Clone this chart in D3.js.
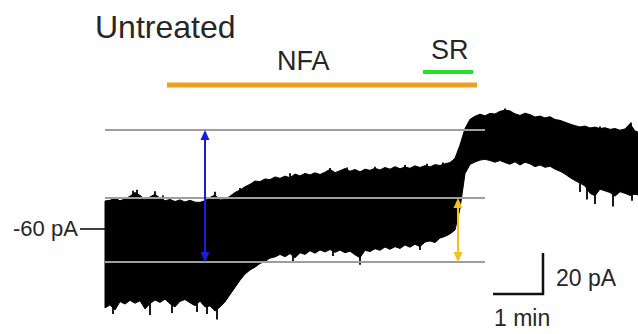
<!DOCTYPE html>
<html>
<head>
<meta charset="utf-8">
<script src="https://cdn.jsdelivr.net/npm/d3@7"></script>
<style>
  html, body { margin: 0; padding: 0; background: #fff; }
  svg { display: block; }
  text { font-family: "Liberation Sans", Arial, sans-serif; fill: #262626; }
</style>
</head>
<body>
<svg id="chart" width="638" height="334"></svg>
<script>
// ---- data (time in min, current in pA) ----
const times = [0,0.1,0.2,0.3,0.4,0.5,0.6,0.7,0.8,0.9,1.0,1.1,1.2,1.3,1.4,1.5,1.6,1.7,1.8,1.9,
  2.0,2.1,2.2,2.3,2.4,2.5,2.6,2.7,2.8,2.9,3.0,3.1,3.2,3.3,3.4,3.5,3.6,3.7,3.8,3.9,
  4.0,4.1,4.2,4.3,4.4,4.5,4.6,4.7,4.8,4.9,5.0,5.1,5.2,5.3,5.4,5.5,5.6,5.7,5.8,5.9,
  6.0,6.1,6.2,6.3,6.4,6.5,6.6,6.7,6.8,6.9,7.0,7.1,7.2,7.3,7.4,7.5,7.6,7.7,7.8,7.9,
  8.0,8.1,8.2,8.3,8.4,8.5,8.6,8.7,8.8,8.9,9.0,9.1,9.2,9.3,9.4,9.5,9.6,9.7,9.8,9.9,
  10.0,10.1,10.2,10.3,10.4,10.5,10.6,10.66];
// upper envelope of the noisy current trace (pA)
const upper = [-46.3,-46.0,-45.0,-46.2,-45.4,-44.0,-42.2,-43.6,-45.6,-44.4,-43.0,-45.0,-46.2,-45.6,-46.6,-45.8,-46.8,-46.0,-46.9,-47.0,
  -46.2,-44.6,-43.4,-45.8,-45.6,-44.0,-42.2,-41.0,-39.4,-38.2,-36.6,-36.9,-35.6,-35.9,-34.6,-35.3,-34.2,-35.0,-33.2,-34.1,
  -32.9,-33.6,-32.6,-33.4,-32.3,-30.9,-32.5,-31.6,-30.5,-31.8,-31.0,-32.1,-30.8,-31.4,-30.4,-31.2,-30.0,-30.8,-29.6,-30.6,
  -29.8,-30.4,-29.2,-30.0,-29.1,-29.7,-28.6,-29.0,-28.2,-27.6,-25.5,-19.0,-11.0,-6.5,-5.0,-4.0,-4.8,-3.6,-3.9,-2.6,
  -2.0,-2.4,-3.8,-4.6,-3.5,-4.2,-5.4,-4.9,-5.8,-5.2,-6.6,-7.0,-7.9,-8.8,-9.6,-10.2,-9.8,-10.7,-10.3,-11.0,
  -10.6,-11.4,-11.0,-11.8,-11.2,-8.6,-12.2,-12.7];
// lower envelope of the noisy current trace (pA)
const lower = [-98.5,-97.0,-99.5,-95.4,-96.6,-94.8,-96.2,-95.0,-99.0,-96.4,-94.6,-95.8,-94.2,-96.5,-98.0,-95.3,-94.4,-96.0,-97.4,-95.2,
  -98.0,-97.5,-100.0,-98.0,-95.5,-92.0,-88.5,-85.0,-82.0,-80.0,-78.6,-76.8,-75.8,-74.2,-73.6,-72.4,-73.5,-72.0,-74.0,-71.6,
  -72.4,-70.6,-71.8,-70.2,-71.2,-70.0,-71.4,-70.3,-71.6,-70.8,-72.6,-74.0,-70.4,-71.0,-69.6,-70.4,-68.8,-69.9,-68.6,-69.5,
  -67.8,-68.9,-67.4,-68.6,-66.4,-65.8,-66.6,-64.4,-63.6,-62.4,-60.5,-50.0,-33.0,-28.5,-27.3,-26.4,-26.0,-26.6,-27.4,-26.6,
  -27.6,-28.4,-27.2,-28.8,-27.4,-28.2,-29.6,-28.8,-29.9,-29.4,-30.8,-31.8,-33.2,-34.9,-36.4,-37.6,-39.0,-42.6,-43.8,-40.6,
  -41.4,-42.2,-44.0,-41.8,-42.6,-43.6,-43.0,-43.4];
// narrow noise spikes beyond the envelope: [time, tip pA]
const spikesUp = [[0.56,-41.4],[0.64,-40.8],[1.0,-41.6],[1.16,-43.6],[2.2,-41.8],[2.7,-40.0],[3.7,-32.8],
  [4.5,-30.2],[4.84,-30.0],[5.4,-29.6],[6.0,-28.8],[6.44,-28.2],[6.76,-27.6],[8.0,-1.2],[9.9,-10.0],[10.52,-8.0]];
const spikesDown = [[0.16,-101.5],[0.9,-102.0],[1.34,-101.0],[1.84,-100.5],[2.04,-101.5],[2.24,-104.2],
  [3.76,-76.0],[4.56,-73.2],[5.1,-77.4],[6.3,-70.2],[9.5,-42.0],[9.64,-45.6],[9.8,-47.8],[10.16,-49.0],[10.54,-46.2]];

// reference levels (pA) marked by grey lines
const refLevels = [-11.7, -44.9, -76.1];
const refLineEnd = 7.6;            // min
// amplitude arrows: [time, from pA, to pA]
const blueArrow = [2.0, -11.7, -76.1];
const yellowArrow = [7.06, -44.9, -76.1];
// drug application bars (min)
const nfaBar = [1.24, 7.44];
const srBar = [6.36, 7.36];
// scale bar values
const scaleCurrent = 20;  // pA
const scaleTime = 1;      // min
const holdingLabel = -60; // pA

// ---- scales ----
const x = d3.scaleLinear().domain([0, 1]).range([105, 155]);
const y = d3.scaleLinear().domain([-60, -40]).range([229, 188]);

const svg = d3.select("#chart");

// trace band
const pts = times.map((t, i) => ({t, hi: upper[i], lo: lower[i]}));
svg.append("path")
  .datum(pts)
  .attr("d", d3.area().x(d => x(d.t)).y0(d => y(d.lo)).y1(d => y(d.hi)))
  .attr("fill", "#000")
  .attr("stroke", "#000")
  .attr("stroke-width", 1)
  .attr("stroke-linejoin", "round");
svg.selectAll("line.su").data(spikesUp).enter().append("line")
  .attr("x1", d => x(d[0])).attr("x2", d => x(d[0]))
  .attr("y1", d => y(d[1])).attr("y2", d => y(d[1]) + 14)
  .attr("stroke", "#000").attr("stroke-width", 1.8);
svg.selectAll("line.sd").data(spikesDown).enter().append("line")
  .attr("x1", d => x(d[0])).attr("x2", d => x(d[0]))
  .attr("y1", d => y(d[1])).attr("y2", d => y(d[1]) - 14)
  .attr("stroke", "#000").attr("stroke-width", 1.8);

// grey reference lines
svg.selectAll("line.ref").data(refLevels).enter().append("line")
  .attr("class", "ref")
  .attr("x1", x(0)).attr("x2", x(refLineEnd))
  .attr("y1", d => y(d)).attr("y2", d => y(d))
  .attr("stroke", "#9e9e9e").attr("stroke-width", 2);

// arrows
function arrow(a, color) {
  const xx = x(a[0]), y1 = y(a[1]), y2 = y(a[2]);
  const hl = 10, hw = 4.5;
  svg.append("line").attr("x1", xx).attr("x2", xx)
    .attr("y1", y1 + hl - 1).attr("y2", y2 - hl + 1)
    .attr("stroke", color).attr("stroke-width", 2);
  svg.append("path")
    .attr("d", `M${xx},${y1} L${xx - hw},${y1 + hl} L${xx + hw},${y1 + hl} Z`)
    .attr("fill", color);
  svg.append("path")
    .attr("d", `M${xx},${y2} L${xx - hw},${y2 - hl} L${xx + hw},${y2 - hl} Z`)
    .attr("fill", color);
}
arrow(blueArrow, "#1a1ae6");
arrow(yellowArrow, "#f2c21a");

// treatment bars
svg.append("line").attr("x1", x(nfaBar[0])).attr("x2", x(nfaBar[1]))
  .attr("y1", 85).attr("y2", 85)
  .attr("stroke", "#f0a020").attr("stroke-width", 5);
svg.append("line").attr("x1", x(srBar[0])).attr("x2", x(srBar[1]))
  .attr("y1", 72).attr("y2", 72)
  .attr("stroke", "#27e027").attr("stroke-width", 4);

svg.append("text").attr("x", 95).attr("y", 38).attr("font-size", 32).text("Untreated");
svg.append("text").attr("x", 277).attr("y", 70).attr("font-size", 27).text("NFA");
svg.append("text").attr("x", 431).attr("y", 59).attr("font-size", 27).text("SR");

// holding current label and tick
svg.append("line").attr("x1", 80).attr("x2", x(0))
  .attr("y1", y(holdingLabel)).attr("y2", y(holdingLabel))
  .attr("stroke", "#000").attr("stroke-width", 1.5);
svg.append("text").attr("x", 13).attr("y", 236).attr("font-size", 22).text(holdingLabel + " pA");

// scale bar
const sbX = 543, sbY = 294;
const sbH = y(0) - y(scaleCurrent);
const sbW = x(scaleTime) - x(0);
svg.append("path")
  .attr("d", `M${sbX - sbW},${sbY} L${sbX},${sbY} L${sbX},${sbY - sbH}`)
  .attr("fill", "none").attr("stroke", "#111").attr("stroke-width", 2.5);
svg.append("text").attr("x", 556).attr("y", 286).attr("font-size", 23).text(scaleCurrent + " pA");
svg.append("text").attr("x", 494).attr("y", 326).attr("font-size", 23).text(scaleTime + " min");
</script>
</body>
</html>
